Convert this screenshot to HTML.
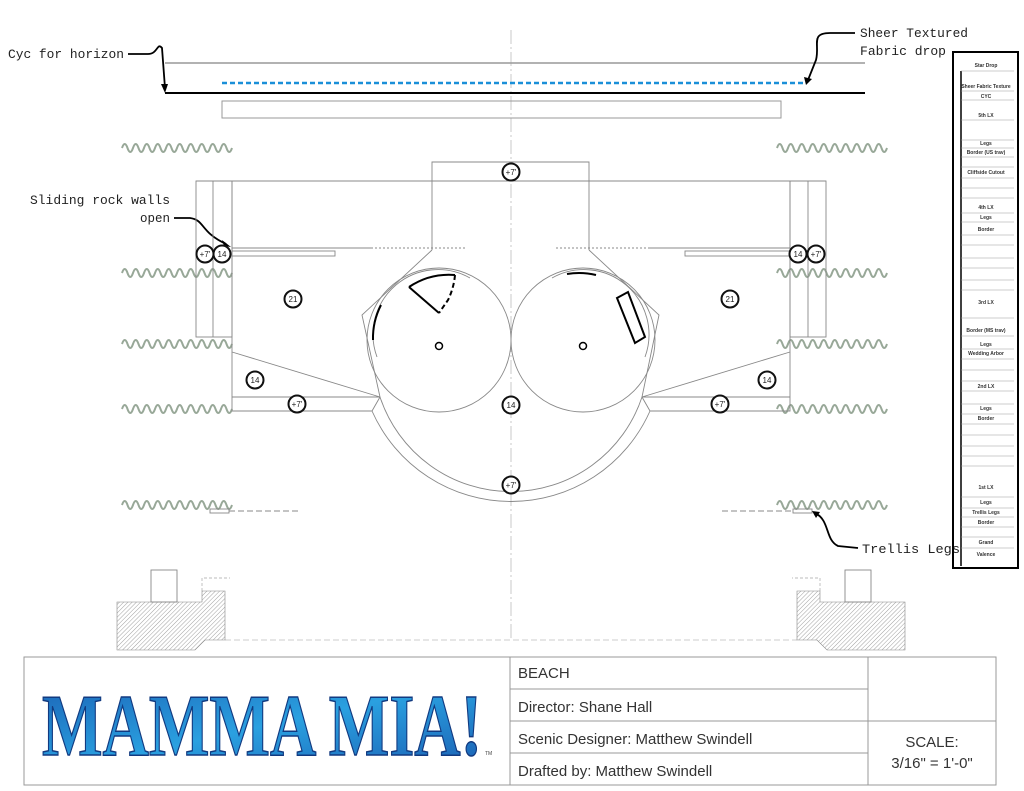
<!DOCTYPE html>
<html><head><meta charset="utf-8"><style>
html,body{margin:0;padding:0;background:#fff;width:1024px;height:791px;overflow:hidden}
svg{display:block}
.m{font-family:"Liberation Mono",monospace;font-size:13px;fill:#222}
.lg{font-family:"Liberation Sans",sans-serif;font-size:5px;font-weight:bold;fill:#333;text-anchor:middle}
.tb{font-family:"Liberation Sans",sans-serif;font-size:15px;fill:#333}
.c circle{fill:#fff;stroke:#111;stroke-width:2}
.c text{font-family:"Liberation Sans",sans-serif;font-size:8px;fill:#222;text-anchor:middle}
</style></head><body>
<svg width="1024" height="791" viewBox="0 0 1024 791" xmlns="http://www.w3.org/2000/svg">
<defs>
<pattern id="h" width="3" height="3" patternUnits="userSpaceOnUse" patternTransform="rotate(45)">
<line x1="0" y1="0" x2="0" y2="3" stroke="#888" stroke-width="0.8"/></pattern>
<path id="w" d="M0 0 q2.75 -8 5.5 0 t5.5 0 t5.5 0 t5.5 0 t5.5 0 t5.5 0 t5.5 0 t5.5 0 t5.5 0 t5.5 0 t5.5 0 t5.5 0 t5.5 0 t5.5 0 t5.5 0 t5.5 0 t5.5 0 t5.5 0 t5.5 0 t5.5 0" fill="none" stroke="#98a898" stroke-width="2"/>
</defs>

<line x1="511" y1="30" x2="511" y2="640" stroke="#bbb" stroke-width="0.8" stroke-dasharray="14 3 2 3"/>

<line x1="165" y1="63" x2="865" y2="63" stroke="#999" stroke-width="1.5"/>
<line x1="222" y1="83" x2="805" y2="83" stroke="#1a8fd8" stroke-width="2.5" stroke-dasharray="5 3"/>
<line x1="165" y1="93" x2="865" y2="93" stroke="#000" stroke-width="2"/>
<rect x="222" y="101" width="559" height="17" fill="none" stroke="#999"/>
<path d="M128 54 L148 54 C158 54 157 42 162 48 L165 88" fill="none" stroke="#000" stroke-width="1.8"/>
<path d="M161 84 L165 93 L168 84Z" fill="#000"/>
<path d="M855 33 L830 33 C810 33 820 45 816 60 L808 80" fill="none" stroke="#000" stroke-width="1.8"/>
<path d="M804 77 L806 85 L812 79Z" fill="#000"/>
<text class="m" x="8" y="58" textLength="116" lengthAdjust="spacingAndGlyphs">Cyc for horizon</text>
<text class="m" x="860" y="37" textLength="108" lengthAdjust="spacingAndGlyphs">Sheer Textured</text>
<text class="m" x="860" y="55" textLength="86" lengthAdjust="spacingAndGlyphs">Fabric drop</text>
<text class="m" x="30" y="204" textLength="140" lengthAdjust="spacingAndGlyphs">Sliding rock walls</text>
<text class="m" x="140" y="222" textLength="30" lengthAdjust="spacingAndGlyphs">open</text>
<path d="M174 218 L190 218 C205 220 200 232 226 244" fill="none" stroke="#000" stroke-width="1.8"/>
<path d="M222 240 L231 247 L224 246Z" fill="#000"/>

<use href="#w" x="122" y="148"/><use href="#w" x="777" y="148"/>
<use href="#w" x="122" y="273"/><use href="#w" x="777" y="273"/>
<use href="#w" x="122" y="344"/><use href="#w" x="777" y="344"/>
<use href="#w" x="122" y="409"/><use href="#w" x="777" y="409"/>
<use href="#w" x="122" y="505"/><use href="#w" x="777" y="505"/>

<g fill="none" stroke="#888" stroke-width="0.9">
<path d="M432 250 L432 162 L589 162 L589 250"/>
<line x1="196" y1="181" x2="826" y2="181"/>
<rect x="196" y="181" width="36" height="156"/>
<line x1="213" y1="181" x2="213" y2="337"/>
<path d="M232 181 L232 411 L372 411"/>
<line x1="232" y1="397" x2="380" y2="397"/>
<line x1="232" y1="352" x2="380" y2="397"/>
<line x1="232" y1="248" x2="371" y2="248"/>
<rect x="232" y="251" width="103" height="5"/>
<line x1="371" y1="248" x2="465" y2="248" stroke-dasharray="2 2"/>
<rect x="790" y="181" width="36" height="156"/>
<line x1="808" y1="181" x2="808" y2="337"/>
<path d="M790 181 L790 411 L650 411"/>
<line x1="642" y1="397" x2="790" y2="397"/>
<line x1="790" y1="352" x2="642" y2="397"/>
<line x1="650" y1="248" x2="790" y2="248"/>
<rect x="685" y="251" width="105" height="5"/>
<line x1="556" y1="248" x2="650" y2="248" stroke-dasharray="2 2"/>
<path d="M432 250 L362 315 L380 397 L372 411"/>
<path d="M589 250 L659 315 L642 397 L650 411"/>
<circle cx="439" cy="340" r="72"/>
<circle cx="583" cy="340" r="72"/>
<path d="M377 357 A65 65 0 0 1 470 278" />
<path d="M645 357 A65 65 0 0 0 552 278" />
<path d="M380 397 A138 138 0 0 0 642 397"/>
<path d="M372 411 A152 152 0 0 0 650 411"/>
<rect x="210" y="509" width="19" height="4"/>
<line x1="229" y1="511" x2="298" y2="511" stroke-dasharray="6 3"/>
<rect x="793" y="509" width="19" height="4"/>
<line x1="722" y1="511" x2="793" y2="511" stroke-dasharray="6 3"/>
<rect x="151" y="570" width="26" height="32"/>
<rect x="845" y="570" width="26" height="32"/>
<line x1="225" y1="640" x2="797" y2="640" stroke-dasharray="6 3" stroke="#ccc"/>
<path d="M202 591 L202 578 L230 578" stroke-dasharray="3 2" stroke="#bbb"/>
<path d="M820 591 L820 578 L792 578" stroke-dasharray="3 2" stroke="#bbb"/>
</g>
<path d="M117 602 L202 602 L202 591 L225 591 L225 640 L205 640 L195 650 L117 650Z" fill="url(#h)" stroke="#888" stroke-width="0.6"/>
<path d="M905 602 L820 602 L820 591 L797 591 L797 640 L817 640 L827 650 L905 650Z" fill="url(#h)" stroke="#888" stroke-width="0.6"/>

<g fill="none" stroke="#000" stroke-width="2">
<path d="M409 287 A72 72 0 0 1 455 275"/>
<path d="M409 287 L439 313"/>
<path d="M455 275 A72 72 0 0 1 448 300 L439 313" stroke-dasharray="5 3"/>
<path d="M373 340 A72 72 0 0 1 381 305"/>
<path d="M567 274 A72 72 0 0 1 596 275"/>
<path d="M617 298 L628 292 L645 337 L635 343Z"/>
<circle cx="439" cy="346" r="3.5" stroke-width="1.5"/>
<circle cx="583" cy="346" r="3.5" stroke-width="1.5"/>
</g>
<path d="M858 548 L838 546 C825 540 830 520 815 513" stroke="#000" stroke-width="1.8" fill="none"/>
<path d="M812 511 L820 512 L816 518Z" fill="#000"/>
<text class="m" x="862" y="553" textLength="98" lengthAdjust="spacingAndGlyphs">Trellis Legs</text>

<g class="c">
<circle cx="511" cy="172" r="8.5"/><text x="511" y="175">+7'</text>
<circle cx="205" cy="254" r="8.5"/><text x="205" y="257">+7'</text>
<circle cx="222" cy="254" r="8.5"/><text x="222" y="257">14</text>
<circle cx="798" cy="254" r="8.5"/><text x="798" y="257">14</text>
<circle cx="816" cy="254" r="8.5"/><text x="816" y="257">+7'</text>
<circle cx="293" cy="299" r="8.5"/><text x="293" y="302">21</text>
<circle cx="730" cy="299" r="8.5"/><text x="730" y="302">21</text>
<circle cx="255" cy="380" r="8.5"/><text x="255" y="383">14</text>
<circle cx="767" cy="380" r="8.5"/><text x="767" y="383">14</text>
<circle cx="297" cy="404" r="8.5"/><text x="297" y="407">+7'</text>
<circle cx="720" cy="404" r="8.5"/><text x="720" y="407">+7'</text>
<circle cx="511" cy="405" r="8.5"/><text x="511" y="408">14</text>
<circle cx="511" cy="485" r="8.5"/><text x="511" y="488">+7'</text>
</g>

<rect x="953" y="52" width="65" height="516" fill="none" stroke="#000" stroke-width="2"/>
<line x1="961" y1="71" x2="961" y2="566" stroke="#000" stroke-width="1.5"/>
<g stroke="#999" stroke-width="0.6">
<line x1="961" y1="71" x2="1014" y2="71"/><line x1="961" y1="91" x2="1014" y2="91"/><line x1="961" y1="100" x2="1014" y2="100"/>
<line x1="961" y1="120" x2="1014" y2="120"/><line x1="961" y1="140" x2="1014" y2="140"/><line x1="961" y1="148" x2="1014" y2="148"/>
<line x1="961" y1="157" x2="1014" y2="157"/><line x1="961" y1="167" x2="1014" y2="167"/><line x1="961" y1="178" x2="1014" y2="178"/>
<line x1="961" y1="188" x2="1014" y2="188"/><line x1="961" y1="198" x2="1014" y2="198"/><line x1="961" y1="213" x2="1014" y2="213"/>
<line x1="961" y1="222" x2="1014" y2="222"/><line x1="961" y1="235" x2="1014" y2="235"/><line x1="961" y1="245" x2="1014" y2="245"/>
<line x1="961" y1="258" x2="1014" y2="258"/><line x1="961" y1="268" x2="1014" y2="268"/><line x1="961" y1="280" x2="1014" y2="280"/>
<line x1="961" y1="290" x2="1014" y2="290"/><line x1="961" y1="318" x2="1014" y2="318"/><line x1="961" y1="336" x2="1014" y2="336"/>
<line x1="961" y1="349" x2="1014" y2="349"/><line x1="961" y1="359" x2="1014" y2="359"/><line x1="961" y1="370" x2="1014" y2="370"/>
<line x1="961" y1="381" x2="1014" y2="381"/><line x1="961" y1="391" x2="1014" y2="391"/><line x1="961" y1="404" x2="1014" y2="404"/>
<line x1="961" y1="414" x2="1014" y2="414"/><line x1="961" y1="424" x2="1014" y2="424"/><line x1="961" y1="435" x2="1014" y2="435"/>
<line x1="961" y1="446" x2="1014" y2="446"/><line x1="961" y1="456" x2="1014" y2="456"/><line x1="961" y1="466" x2="1014" y2="466"/>
<line x1="961" y1="497" x2="1014" y2="497"/><line x1="961" y1="508" x2="1014" y2="508"/><line x1="961" y1="517" x2="1014" y2="517"/>
<line x1="961" y1="527" x2="1014" y2="527"/><line x1="961" y1="537" x2="1014" y2="537"/><line x1="961" y1="548" x2="1014" y2="548"/>
</g>
<g class="lg">
<text x="986" y="67">Star Drop</text><text x="986" y="88">Sheer Fabric Texture</text><text x="986" y="98">CYC</text>
<text x="986" y="117">5th LX</text><text x="986" y="145">Legs</text><text x="986" y="154">Border (US trav)</text>
<text x="986" y="174">Cliffside Cutout</text><text x="986" y="209">4th LX</text><text x="986" y="219">Legs</text>
<text x="986" y="231">Border</text><text x="986" y="304">3rd LX</text><text x="986" y="332">Border (MS trav)</text>
<text x="986" y="346">Legs</text><text x="986" y="355">Wedding Arbor</text><text x="986" y="388">2nd LX</text>
<text x="986" y="410">Legs</text><text x="986" y="420">Border</text><text x="986" y="489">1st LX</text>
<text x="986" y="504">Legs</text><text x="986" y="514">Trellis Legs</text><text x="986" y="524">Border</text>
<text x="986" y="544">Grand</text><text x="986" y="556">Valence</text>
</g>

<rect x="24" y="657" width="972" height="128" fill="none" stroke="#999"/>
<line x1="510" y1="657" x2="510" y2="785" stroke="#999"/>
<line x1="868" y1="657" x2="868" y2="785" stroke="#999"/>
<line x1="510" y1="689" x2="868" y2="689" stroke="#999"/>
<line x1="510" y1="721" x2="996" y2="721" stroke="#999"/>
<line x1="510" y1="753" x2="868" y2="753" stroke="#999"/>
<text class="tb" x="518" y="678">BEACH</text>
<text class="tb" x="518" y="712">Director: Shane Hall</text>
<text class="tb" x="518" y="744">Scenic Designer: Matthew Swindell</text>
<text class="tb" x="518" y="776">Drafted by: Matthew Swindell</text>
<text class="tb" x="932" y="747" text-anchor="middle">SCALE:</text>
<text class="tb" x="932" y="768" text-anchor="middle">3/16" = 1'-0"</text>
<defs><linearGradient id="bg" x1="0" y1="0" x2="1" y2="1">
<stop offset="0" stop-color="#1b62b5"/><stop offset="0.5" stop-color="#2aa0e0"/><stop offset="1" stop-color="#1a5bb0"/></linearGradient></defs>
<text x="42" y="755" textLength="440" lengthAdjust="spacingAndGlyphs" font-family="Liberation Serif,serif" font-weight="bold" font-size="88" fill="url(#bg)" stroke="#123a80" stroke-width="1.5">MAMMA MIA!</text>
<text x="485" y="755" font-family="Liberation Sans,sans-serif" font-size="5" fill="#444">TM</text>
</svg>
</body></html>
